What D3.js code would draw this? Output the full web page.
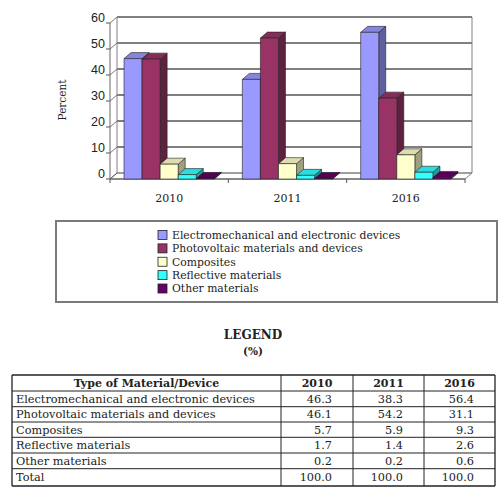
<!DOCTYPE html>
<html>
<head>
<meta charset="utf-8">
<script src="https://cdn.jsdelivr.net/npm/d3@7"></script>
<style>
  body { margin: 0; background: #fff; }
  text { font-family: "DejaVu Serif", serif; }
</style>
</head>
<body>
<div id="chart"></div>
<script>
// chart data
const years = ["2010", "2011", "2016"];
const seriesNames = [
  "Electromechanical and electronic devices",
  "Photovoltaic materials and devices",
  "Composites",
  "Reflective materials",
  "Other materials"
];
const electromechanical = [46.3, 38.3, 56.4];
const photovoltaic = [46.1, 54.2, 31.1];
const composites = [5.7, 5.9, 9.3];
const reflective = [1.7, 1.4, 2.6];
const otherMaterials = [0.2, 0.2, 0.6];
const totals = ["100.0", "100.0", "100.0"];
const yTicks = [0, 10, 20, 30, 40, 50, 60];
const colors = ["#9999ff", "#993366", "#ffffcc", "#33ffff", "#660066"];

const seriesValues = [electromechanical, photovoltaic, composites, reflective, otherMaterials];

const width = 500, height = 491;
const svg = d3.select("#chart").append("svg")
  .attr("width", width)
  .attr("height", height);

svg.append("rect").attr("width", width).attr("height", height).attr("fill", "#fff");

// 3d depth offset
const dx = 7, dy = 6;
const floorY = 179;

const x = d3.scaleBand().domain(years).range([110, 465]);
const xInner = d3.scaleBand().domain(seriesNames).range([14, x.bandwidth() - 14]);
const y = d3.scaleLinear().domain([0, 60]).range([floorY, 23]);

const wall = svg.append("g");

// floor
wall.append("polygon")
  .attr("points", [[x.range()[0], floorY], [x.range()[1], floorY],
    [x.range()[1] + dx, floorY - dy], [x.range()[0] + dx, floorY - dy]].join(" "))
  .attr("fill", "#fff").attr("stroke", "#808080").attr("stroke-width", 1);

// back wall gridlines + left wall diagonals
yTicks.forEach(function (t) {
  const yf = y(t);
  wall.append("line")
    .attr("x1", x.range()[0] + dx).attr("x2", x.range()[1] + dx)
    .attr("y1", yf - dy).attr("y2", yf - dy)
    .attr("stroke", t === 0 ? "#808080" : "#000").attr("stroke-width", 1);
  wall.append("line")
    .attr("x1", x.range()[0]).attr("y1", yf)
    .attr("x2", x.range()[0] + dx).attr("y2", yf - dy)
    .attr("stroke", "#555").attr("stroke-width", 0.8);
  wall.append("line")
    .attr("x1", x.range()[0] - 4).attr("x2", x.range()[0])
    .attr("y1", yf).attr("y2", yf)
    .attr("stroke", "#555");
  wall.append("text")
    .attr("x", 105).attr("y", yf - dy + 1)
    .attr("dy", "0.35em")
    .attr("text-anchor", "end")
    .style("font-family", "'Liberation Sans', Arial, sans-serif")
    .style("font-size", "12.5px")
    .attr("fill", "#222")
    .text(t);
});

// wall edges
wall.append("line")
  .attr("x1", x.range()[0] + dx).attr("x2", x.range()[0] + dx)
  .attr("y1", y(60) - dy).attr("y2", floorY - dy)
  .attr("stroke", "#808080");
wall.append("line")
  .attr("x1", x.range()[1] + dx).attr("x2", x.range()[1] + dx)
  .attr("y1", y(60) - dy).attr("y2", floorY - dy)
  .attr("stroke", "#808080");
wall.append("line")
  .attr("x1", x.range()[0]).attr("x2", x.range()[0])
  .attr("y1", y(60)).attr("y2", floorY)
  .attr("stroke", "#666");
wall.append("line")
  .attr("x1", x.range()[0]).attr("x2", x.range()[1])
  .attr("y1", floorY).attr("y2", floorY)
  .attr("stroke", "#555");

// category ticks
x.domain().concat(["end"]).forEach(function (d, i) {
  const px = i < years.length ? x(d) : x.range()[1];
  wall.append("line")
    .attr("x1", px).attr("x2", px)
    .attr("y1", floorY).attr("y2", floorY + 4)
    .attr("stroke", "#555");
});

// category labels
svg.append("g").selectAll("text")
  .data(years)
  .enter().append("text")
  .attr("x", d => x(d) + x.bandwidth() / 2)
  .attr("y", 202)
  .attr("text-anchor", "middle")
  .style("font-size", "11px")
  .attr("fill", "#222")
  .text(d => d);

// y axis title
svg.append("text")
  .attr("transform", "translate(66,100) rotate(-90)")
  .attr("text-anchor", "middle")
  .style("font-size", "10.5px")
  .attr("fill", "#222")
  .text("Percent");

// bars
const bars = svg.append("g");
years.forEach(function (yr, i) {
  seriesNames.forEach(function (name, j) {
    const v = seriesValues[j][i];
    const x0 = x(yr) + xInner(name);
    const w = xInner.bandwidth();
    const yt = y(v);
    const c = d3.color(colors[j]);
    const g = bars.append("g").attr("stroke", "#222").attr("stroke-width", 0.6).attr("stroke-linejoin", "round");
    // side
    g.append("polygon")
      .attr("points", [[x0 + w, yt], [x0 + w + dx, yt - dy], [x0 + w + dx, floorY - dy], [x0 + w, floorY]].join(" "))
      .attr("fill", c.darker(1.3));
    // top
    g.append("polygon")
      .attr("points", [[x0, yt], [x0 + w, yt], [x0 + w + dx, yt - dy], [x0 + dx, yt - dy]].join(" "))
      .attr("fill", c.darker(0.4));
    // front
    g.append("rect")
      .attr("x", x0).attr("y", yt)
      .attr("width", w).attr("height", floorY - yt)
      .attr("fill", c);
  });
});

// legend box
const legend = svg.append("g");
legend.append("rect")
  .attr("x", 56).attr("y", 221)
  .attr("width", 441).attr("height", 81)
  .attr("fill", "#fff").attr("stroke", "#7a7a7a").attr("stroke-width", 2);

const legendY = d3.scalePoint().domain(seriesNames).range([235, 288.5]);
legend.selectAll("rect.sw")
  .data(seriesNames)
  .enter().append("rect")
  .attr("class", "sw")
  .attr("x", 158).attr("y", d => legendY(d) - 4.5)
  .attr("width", 9).attr("height", 9)
  .attr("fill", (d, i) => colors[i])
  .attr("stroke", "#222").attr("stroke-width", 0.8);
legend.selectAll("text")
  .data(seriesNames)
  .enter().append("text")
  .attr("x", 172).attr("y", d => legendY(d))
  .attr("dy", "0.35em")
  .style("font-size", "10.8px")
  .attr("fill", "#222")
  .text(d => d);

// legend heading
svg.append("text")
  .attr("x", 253).attr("y", 335).attr("dy", "0.35em")
  .attr("text-anchor", "middle")
  .style("font-size", "12px").style("font-weight", "bold")
  .attr("fill", "#222")
  .text("LEGEND");
svg.append("text")
  .attr("x", 253).attr("y", 351).attr("dy", "0.35em")
  .attr("text-anchor", "middle")
  .style("font-size", "10.5px").style("font-weight", "bold")
  .attr("fill", "#222")
  .text("(%)");

// data table
const colEdges = [12, 281, 353, 424, 495];
const rowEdges = [375, 391, 406.7, 422, 437.3, 453, 468.7, 486];
const table = svg.append("g");
const rows = seriesNames.map((name, j) => [name].concat(seriesValues[j].map(v => v.toFixed(1))));
rows.push(["Total"].concat(totals));

rowEdges.forEach(function (ry, k) {
  table.append("line")
    .attr("x1", colEdges[0]).attr("x2", colEdges[colEdges.length - 1])
    .attr("y1", ry).attr("y2", ry)
    .attr("stroke", "#222").attr("stroke-width", (k === 0 || k === rowEdges.length - 1) ? 1.3 : 1);
});
colEdges.forEach(function (cx, k) {
  table.append("line")
    .attr("x1", cx).attr("x2", cx)
    .attr("y1", rowEdges[0]).attr("y2", rowEdges[rowEdges.length - 1])
    .attr("stroke", "#222").attr("stroke-width", (k === 0 || k === colEdges.length - 1) ? 1.3 : 1);
});

// header
const header = ["Type of Material/Device"].concat(years);
header.forEach(function (h, k) {
  table.append("text")
    .attr("x", (colEdges[k] + colEdges[k + 1]) / 2)
    .attr("y", (rowEdges[0] + rowEdges[1]) / 2).attr("dy", "0.35em")
    .attr("text-anchor", "middle")
    .style("font-size", "11px").style("font-weight", "bold")
    .attr("fill", "#222")
    .text(h);
});

rows.forEach(function (r, i) {
  const cy = (rowEdges[i + 1] + rowEdges[i + 2]) / 2;
  r.forEach(function (cell, k) {
    table.append("text")
      .attr("x", k === 0 ? colEdges[0] + 4 : colEdges[k + 1] - 21)
      .attr("y", cy).attr("dy", "0.35em")
      .attr("text-anchor", k === 0 ? "start" : "end")
      .style("font-size", "11.3px")
      .attr("fill", "#222")
      .text(cell);
  });
});
</script>
</body>
</html>
